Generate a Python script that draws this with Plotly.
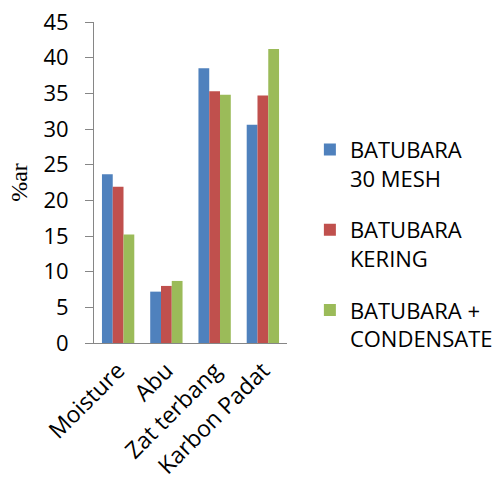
import plotly.graph_objects as go

categories = ["Moisture", "Abu", "Zat terbang", "Karbon Padat"]
series_names = ["BATUBARA<br>30 MESH", "BATUBARA<br>KERING", "BATUBARA +<br>CONDENSATE"]
mesh30 = [23.65, 7.2, 38.5, 30.6]
kering = [21.9, 8.0, 35.3, 34.7]
condensate = [15.2, 8.7, 34.8, 41.2]
colors = ["#4F81BD", "#C0504D", "#9BBB59"]
y_ticks = [0, 5, 10, 15, 20, 25, 30, 35, 40, 45]

fig = go.Figure()
for i, (name, vals, c) in enumerate(zip(series_names, [mesh30, kering, condensate], colors)):
    fig.add_trace(go.Bar(x=categories, y=vals, name=name, legendgroup=f"g{i}",
                         marker=dict(color=c, line=dict(width=0))))

font_family = "Open Sans, Liberation Sans, sans-serif"
fig.update_layout(
    width=499, height=477,
    margin=dict(l=94, r=212, t=22, b=134),
    paper_bgcolor="white", plot_bgcolor="white",
    barmode="group", bargap=0.33, bargroupgap=0,
    font=dict(family=font_family, size=22, color="#000000"),
    showlegend=True,
    legend=dict(x=0.621, y=0.73, xref="container", yref="container",
                xanchor="left", yanchor="top", valign="top",
                font=dict(size=22, family=font_family), tracegroupgap=20,
                itemwidth=30),
    xaxis=dict(showline=True, linecolor="#868686", linewidth=1, ticks="",
               tickangle=-45, tickfont=dict(size=23), showgrid=False, automargin=False,
               ticklabelstandoff=4, ticklabeloverflow="allow"),
    yaxis=dict(range=[0, 45], tickvals=y_ticks, showline=True, linecolor="#868686",
               linewidth=1, ticks="outside", ticklen=8, tickcolor="#868686",
               showgrid=False, zeroline=False, tickfont=dict(size=22), automargin=False,
               ticklabelstandoff=12, ticklabeloverflow="allow",
               title=dict(text="%ar", font=dict(family="Liberation Serif, serif", size=24),
                          standoff=9)),
)
fig.write_html("out.html", config={"displayModeBar": False},
               post_script="document.body.style.margin='0';document.body.style.overflow='hidden';")
